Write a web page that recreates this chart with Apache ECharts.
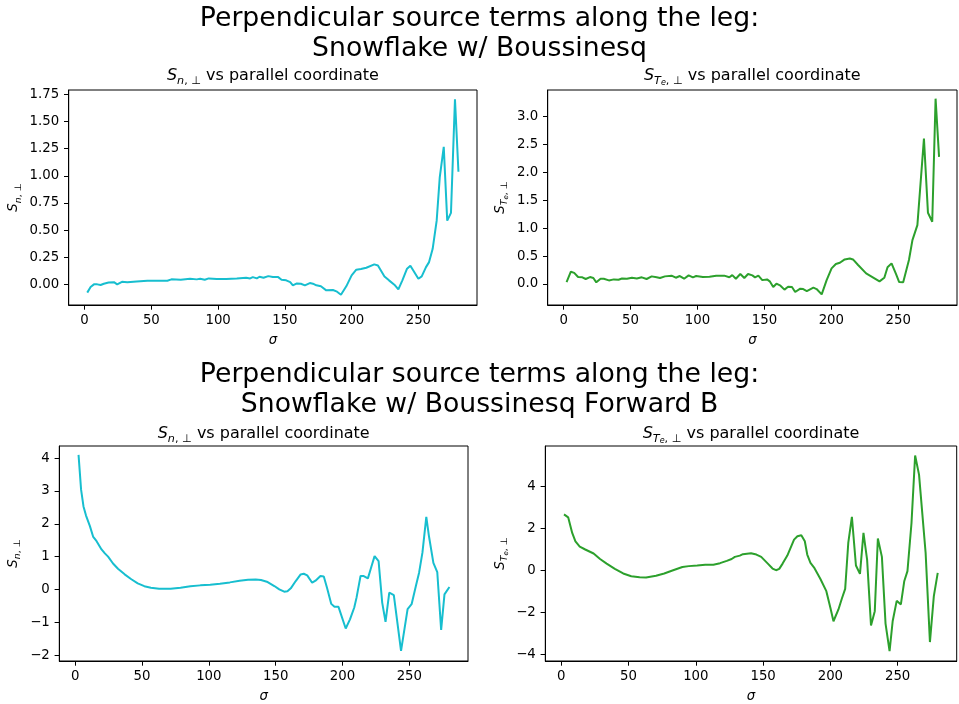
<!DOCTYPE html>
<html>
<head>
<meta charset="utf-8">
<title>Perpendicular source terms along the leg</title>
<script src="https://cdn.jsdelivr.net/npm/echarts@6/dist/echarts.min.js"></script>
<style>
  html, body { margin: 0; padding: 0; background: #fff; }
  #chart { width: 959px; height: 704px; }
</style>
</head>
<body>
<div id="chart"></div>
<script>
// Snowflake w/ Boussinesq: S_n,perp along the leg
const sigmaNTop = [2, 4.5, 7, 9.5, 12, 14.4, 18, 22, 24.4, 28, 32, 39, 47, 54, 62, 65, 72, 79, 84, 86.6, 90, 93, 99, 106, 114, 121, 124, 126, 129, 131, 134, 137.6, 141, 145, 147.5, 151, 154, 156, 159, 162, 165, 168.7, 171, 173.6, 177, 181, 186, 188.6, 192, 196, 200, 203.5, 207, 211, 217, 219.7, 224.6, 228, 232, 235, 238, 241.5, 244, 250, 252.5, 255.7, 258, 260.7, 263.7, 266, 269, 271.6, 274.4, 277.4, 280];
const snTop = [-0.076, -0.024, 0.0, 0.0, -0.006, 0.006, 0.018, 0.02, 0.0, 0.024, 0.02, 0.027, 0.034, 0.034, 0.034, 0.046, 0.043, 0.052, 0.046, 0.052, 0.043, 0.055, 0.049, 0.049, 0.055, 0.061, 0.055, 0.067, 0.055, 0.07, 0.061, 0.076, 0.067, 0.067, 0.043, 0.037, 0.021, -0.009, 0.009, 0.006, -0.009, 0.012, 0.006, -0.009, -0.018, -0.055, -0.052, -0.064, -0.095, -0.018, 0.083, 0.135, 0.141, 0.153, 0.184, 0.174, 0.073, 0.037, -0.003, -0.046, 0.037, 0.144, 0.171, 0.052, 0.073, 0.159, 0.205, 0.327, 0.587, 0.985, 1.266, 0.587, 0.658, 1.704, 1.037];

// Snowflake w/ Boussinesq: S_Te,perp along the leg
const sigmaTTop = [2.2, 5.4, 7.9, 10.8, 14, 16.5, 19.7, 22.2, 24.4, 27.6, 30, 33.8, 37.5, 41, 43.6, 47.3, 51, 54.7, 58.4, 62, 65.8, 69.5, 72, 75.7, 80.6, 83.8, 86.8, 90, 93.4, 96.6, 99, 104, 109, 114, 120, 123.8, 126, 128.7, 132, 135, 137.8, 141, 143, 145.5, 148.4, 152, 154, 156.6, 159, 162, 165, 167.7, 170.6, 173, 176.8, 179, 181.7, 186.6, 189, 192.8, 196.5, 200.2, 203.4, 206.4, 210, 213.8, 216.2, 220, 226, 231, 236, 239.6, 242, 245, 248.3, 250.7, 253.7, 258, 260.6, 264.3, 269.2, 272.2, 275.4, 277.9, 280.5];
const steTop = [0.036, 0.22, 0.2, 0.125, 0.12, 0.09, 0.125, 0.107, 0.03, 0.095, 0.095, 0.065, 0.083, 0.077, 0.1, 0.095, 0.113, 0.1, 0.12, 0.09, 0.137, 0.12, 0.107, 0.137, 0.15, 0.113, 0.143, 0.095, 0.155, 0.12, 0.143, 0.125, 0.13, 0.15, 0.15, 0.12, 0.16, 0.095, 0.18, 0.107, 0.18, 0.155, 0.12, 0.15, 0.07, 0.083, 0.048, -0.054, 0.006, -0.03, -0.1, -0.048, -0.054, -0.143, -0.083, -0.09, -0.125, -0.065, -0.09, -0.185, 0.07, 0.28, 0.357, 0.38, 0.44, 0.458, 0.44, 0.34, 0.19, 0.12, 0.048, 0.113, 0.3, 0.37, 0.18, 0.036, 0.03, 0.43, 0.786, 1.054, 2.6, 1.274, 1.113, 3.315, 2.274];

// Snowflake w/ Boussinesq Forward B: S_n,perp along the leg
const sigmaNBot = [2.5, 4.4, 6.2, 8.1, 11, 13.5, 16, 19.7, 22.2, 24.6, 28.3, 32, 37, 42, 46.8, 51.7, 56.6, 62.8, 71.4, 78.8, 86.2, 93.6, 101, 108.3, 115.7, 123, 129.3, 135, 139, 144, 149, 152.7, 156.4, 158.8, 161.3, 165, 168.7, 171, 173.6, 177.3, 179.8, 183.5, 186, 188.4, 191.6, 194, 197, 202.4, 205.6, 208.8, 210.5, 213.5, 215.9, 219, 221.6, 224, 227, 229.7, 232.2, 235, 238.4, 243.8, 248.7, 251.7, 254.9, 257.3, 259.8, 262.7, 264.7, 268, 270.9, 273.8, 276.3, 280];
const snBot = [4.1, 3.04, 2.53, 2.25, 1.93, 1.6, 1.47, 1.22, 1.1, 1.0, 0.79, 0.63, 0.46, 0.31, 0.185, 0.1, 0.054, 0.023, 0.023, 0.054, 0.094, 0.124, 0.145, 0.175, 0.215, 0.266, 0.296, 0.306, 0.286, 0.226, 0.104, 0.003, -0.068, -0.058, 0.033, 0.256, 0.458, 0.478, 0.428, 0.205, 0.266, 0.408, 0.397, 0.054, -0.44, -0.53, -0.53, -1.19, -0.91, -0.55, -0.25, 0.408, 0.408, 0.337, 0.69, 1.016, 0.863, -0.4, -0.99, -0.098, -0.17, -1.87, -0.6, -0.45, 0.104, 0.51, 1.12, 2.21, 1.62, 0.81, 0.53, -1.23, -0.15, 0.074];

// Snowflake w/ Boussinesq Forward B: S_Te,perp along the leg
const sigmaTBot = [2, 5.1, 8.1, 10.5, 13.7, 17.8, 24, 28.8, 33.7, 39.8, 46, 52, 58.2, 63, 70.4, 76.5, 82.6, 90, 94.8, 101, 107, 113, 118, 123, 126.6, 129, 132.7, 135, 141, 145, 148.6, 153.5, 157, 159.6, 162, 164.5, 168, 173, 175.5, 178.4, 181, 182.8, 185.2, 188.2, 192.6, 197, 200, 202.3, 206, 208.5, 211, 213.3, 216, 219, 222, 224.6, 227.3, 230.2, 233, 235.3, 238.3, 241, 244, 246.3, 249.3, 252.4, 254.9, 257.3, 260.3, 263, 265.9, 270.8, 274, 276.9, 279.8];
const steBot = [2.67, 2.53, 1.79, 1.39, 1.14, 1.0, 0.81, 0.55, 0.33, 0.08, -0.14, -0.27, -0.32, -0.33, -0.25, -0.14, 0.0, 0.17, 0.21, 0.24, 0.27, 0.28, 0.35, 0.46, 0.55, 0.65, 0.71, 0.78, 0.82, 0.76, 0.65, 0.33, 0.095, 0.016, 0.08, 0.33, 0.71, 1.47, 1.63, 1.68, 1.39, 0.76, 0.36, 0.11, -0.4, -0.98, -1.77, -2.41, -1.85, -1.34, -0.87, 1.31, 2.55, 0.24, -0.16, 1.79, 0.52, -2.61, -1.93, 1.52, 0.65, -2.52, -3.83, -2.41, -1.44, -1.61, -0.51, -0.03, 2.26, 5.47, 4.56, 0.84, -3.4, -1.22, -0.11];

// Tick positions
const sigmaTicks = [0, 50, 100, 150, 200, 250];
const snTopTicks = [0, 0.25, 0.5, 0.75, 1.0, 1.25, 1.5, 1.75];
const steTopTicks = [0, 0.5, 1.0, 1.5, 2.0, 2.5, 3.0];
const snBotTicks = [-2, -1, 0, 1, 2, 3, 4];
const steBotTicks = [-4, -2, 0, 2, 4];

const suptitleTop = 'Perpendicular source terms along the leg:\nSnowflake w/ Boussinesq';
const suptitleBot = 'Perpendicular source terms along the leg:\nSnowflake w/ Boussinesq Forward B';

const CYAN = '#17becf';
const GREEN = '#2ca02c';
const FONT = 'DejaVu Sans';

const zip = (xs, ys) => xs.map((x, i) => [x, ys[i]]);
const minus = s => s.replace('-', '\u2212');

// mathtext-like rich styles: italic symbol with lowered subscripts
const mathRich = {
  i: { fontFamily: FONT, fontStyle: 'italic', fontSize: 16, lineHeight: 22, color: '#000' },
  t: { fontFamily: FONT, fontSize: 16, lineHeight: 22, color: '#000' },
  sub: { fontFamily: FONT, fontStyle: 'italic', fontSize: 11.2, lineHeight: 13, verticalAlign: 'bottom', color: '#000' },
  subu: { fontFamily: FONT, fontSize: 11.2, lineHeight: 13, verticalAlign: 'bottom', color: '#000' },
  subsub: { fontFamily: FONT, fontStyle: 'italic', fontSize: 8, lineHeight: 7, verticalAlign: 'bottom', color: '#000' }
};
const labelRich = {
  i: { fontFamily: FONT, fontStyle: 'italic', fontSize: 13.3, lineHeight: 18, color: '#000' },
  sub: { fontFamily: FONT, fontStyle: 'italic', fontSize: 9.3, lineHeight: 11, verticalAlign: 'bottom', color: '#000' },
  subu: { fontFamily: FONT, fontSize: 9.3, lineHeight: 11, verticalAlign: 'bottom', color: '#000' },
  subsub: { fontFamily: FONT, fontStyle: 'italic', fontSize: 7, lineHeight: 6, verticalAlign: 'bottom', color: '#000' }
};

const nText = '{i|S}{sub|n}{subu|, \u22a5}';
const tText = '{i|S}{sub|T}{subsub|e}{subu|, \u22a5}';

const grids = [
  { left: 68.7, top: 90, width: 408.3, height: 215 },
  { left: 547.7, top: 90, width: 409.3, height: 215 },
  { left: 59.3, top: 446, width: 408.7, height: 216 },
  { left: 545.3, top: 446, width: 411.4, height: 216 }
].map(g => Object.assign({ show: true, borderColor: '#000', borderWidth: 1, backgroundColor: 'transparent' }, g));

const tickStyle = { show: true, inside: false, length: 4.7, lineStyle: { color: '#000', width: 1 } };
const labelBase = { color: '#000', fontFamily: FONT, fontSize: 13.3 };

function xAxis(gridIndex) {
  return {
    type: 'value', gridIndex, min: -11.9, max: 293.9,
    name: 'σ', nameLocation: 'middle', nameGap: 29, nameMoveOverlap: false,
    nameTextStyle: { fontFamily: FONT, fontStyle: 'italic', fontSize: 13.3, color: '#000' },
    axisLine: { show: true, onZero: false, lineStyle: { color: '#000', width: 1 } },
    axisTick: Object.assign({ customValues: sigmaTicks }, tickStyle),
    axisLabel: Object.assign({ customValues: sigmaTicks, margin: 9, showMinLabel: true, showMaxLabel: true }, labelBase),
    splitLine: { show: false }
  };
}

function yAxis(gridIndex, min, max, ticks, fmt, name, gap) {
  return {
    type: 'value', gridIndex, min, max,
    name, nameLocation: 'middle', nameGap: gap, nameRotate: 90, nameMoveOverlap: false,
    nameTextStyle: { rich: labelRich },
    axisLine: { show: true, onZero: false, lineStyle: { color: '#000', width: 1 } },
    axisTick: Object.assign({ customValues: ticks }, tickStyle),
    axisLabel: Object.assign({ customValues: ticks, margin: 9.5, formatter: fmt }, labelBase),
    splitLine: { show: false }
  };
}

function subTitle(text, cx, cy) {
  return {
    text, left: cx, top: cy - 10.5, textAlign: 'center', padding: 0,
    textStyle: { rich: mathRich, fontFamily: FONT, fontSize: 16, fontWeight: 'normal', color: '#000' }
  };
}

function supTitle(text, top) {
  return {
    text, left: 479.5, top, textAlign: 'center', padding: 0,
    textStyle: { fontFamily: FONT, fontSize: 26.7, lineHeight: 30, fontWeight: 'normal', color: '#000' }
  };
}

function line(i, data, color) {
  return {
    type: 'line', xAxisIndex: i, yAxisIndex: i, data, showSymbol: false,
    lineStyle: { color, width: 2 }, itemStyle: { color }, animation: false, silent: true
  };
}

const chart = echarts.init(document.getElementById('chart'), null, { renderer: 'canvas' });
chart.setOption({
  backgroundColor: '#fff',
  animation: false,
  title: [
    supTitle(suptitleTop, 4),
    supTitle(suptitleBot, 360),
    subTitle(nText + '{t| vs parallel coordinate}', 272.9, 75),
    subTitle(tText + '{t| vs parallel coordinate}', 752.3, 75),
    subTitle(nText + '{t| vs parallel coordinate}', 263.7, 433),
    subTitle(tText + '{t| vs parallel coordinate}', 751, 433)
  ],
  grid: grids,
  xAxis: [xAxis(0), xAxis(1), xAxis(2), xAxis(3)],
  yAxis: [
    yAxis(0, -0.19, 1.79, snTopTicks, v => minus(v.toFixed(2)), nText, 46),
    yAxis(1, -0.375, 3.47, steTopTicks, v => minus(v.toFixed(1)), tText, 38.5),
    yAxis(2, -2.18, 4.37, snBotTicks, v => minus(String(v)), nText, 37),
    yAxis(3, -4.3, 5.92, steBotTicks, v => minus(String(v)), tText, 36)
  ],
  series: [
    line(0, zip(sigmaNTop, snTop), CYAN),
    line(1, zip(sigmaTTop, steTop), GREEN),
    line(2, zip(sigmaNBot, snBot), CYAN),
    line(3, zip(sigmaTBot, steBot), GREEN)
  ]
});
</script>
</body>
</html>
